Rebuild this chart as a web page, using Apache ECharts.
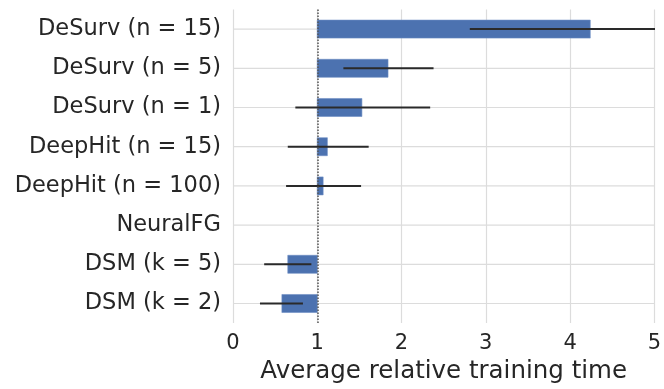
<!DOCTYPE html>
<html><head><meta charset="utf-8">
<script src="https://cdn.jsdelivr.net/npm/echarts@6/dist/echarts.min.js"></script>
<style>html,body{margin:0;padding:0;background:#fff}#c{width:664px;height:389px}</style>
</head><body><div id="c"></div>
<script>
const categories = ['DeSurv (n = 15)','DeSurv (n = 5)','DeSurv (n = 1)','DeepHit (n = 15)','DeepHit (n = 100)','NeuralFG','DSM (k = 5)','DSM (k = 2)'];
const means = [4.24, 1.84, 1.53, 1.12, 1.07, 1.0, 0.65, 0.58];
const errLow = [2.81, 1.31, 0.74, 0.65, 0.63, null, 0.37, 0.32];
const errHigh = [5.67, 2.38, 2.34, 1.61, 1.52, null, 0.93, 0.83];
const xTicks = [0, 1, 2, 3, 4, 5];
const baseline = 1;

const barData = categories.map((c, i) => [i, means[i]]).filter(d => d[1] !== baseline);
const errData = categories.map((c, i) => [i, errLow[i], errHigh[i]]).filter(d => d[1] != null);

const chart = echarts.init(document.getElementById('c'));
const font = 'DejaVu Sans';
chart.setOption({
  animation: false,
  grid: {left: 233, right: 9, top: 9.5, bottom: 64.5},
  xAxis: {
    type: 'value', min: xTicks[0], max: xTicks[xTicks.length-1], interval: 1,
    axisLine: {show: false}, axisTick: {show: false},
    splitLine: {show: true, lineStyle: {color: '#dcdcdc', width: 1.2}},
    axisLabel: {color: '#262626', fontSize: 21, fontFamily: font, margin: 10},
    name: 'Average relative training time', nameLocation: 'middle', nameGap: 34,
    nameTextStyle: {color: '#262626', fontSize: 24.5, fontFamily: font}
  },
  yAxis: {
    type: 'category', data: categories, inverse: true,
    axisLine: {show: false}, axisTick: {show: false},
    splitLine: {show: false},
    axisLabel: {color: '#262626', fontSize: 22.5, fontFamily: font, margin: 12}
  },
  series: [
    {
      type: 'custom', clip: true, data: barData, z: 2,
      renderItem: function (params, api) {
        const i = api.value(0), v = api.value(1);
        const p0 = api.coord([baseline, i]);
        const p1 = api.coord([v, i]);
        const h = api.size([0, 1])[1] * 0.46;
        const x = Math.min(p0[0], p1[0]), w = Math.abs(p1[0] - p0[0]);
        return {type: 'rect', shape: {x: x, y: p0[1] - h/2, width: w, height: h},
          style: {fill: '#4c72b0', stroke: '#6f8fc4', lineWidth: 0.6}};
      }
    },
    {
      type: 'custom', clip: true, data: errData, z: 4,
      renderItem: function (params, api) {
        const i = api.value(0);
        const a = api.coord([api.value(1), i]);
        const b = api.coord([api.value(2), i]);
        return {type: 'line', shape: {x1: a[0], y1: a[1], x2: b[0], y2: b[1]},
          style: {stroke: '#2a2a2a', lineWidth: 2}};
      }
    },
    {
      type: 'custom', clip: false, data: categories.map((c, i) => [i]), z: 1,
      renderItem: function (params, api) {
        const i = api.value(0);
        const a = api.coord([xTicks[0], i]);
        const b = api.coord([xTicks[xTicks.length-1], i]);
        return {type: 'line', shape: {x1: a[0], y1: a[1], x2: b[0], y2: b[1]},
          style: {stroke: '#dcdcdc', lineWidth: 1.2}};
      }
    },
    {
      type: 'line', data: [], z: 5,
      markLine: {symbol: 'none', silent: true, label: {show: false},
        lineStyle: {color: '#555', type: [1.5, 1.5], width: 1.5},
        data: [{xAxis: baseline}]}
    }
  ]
});
</script></body></html>
